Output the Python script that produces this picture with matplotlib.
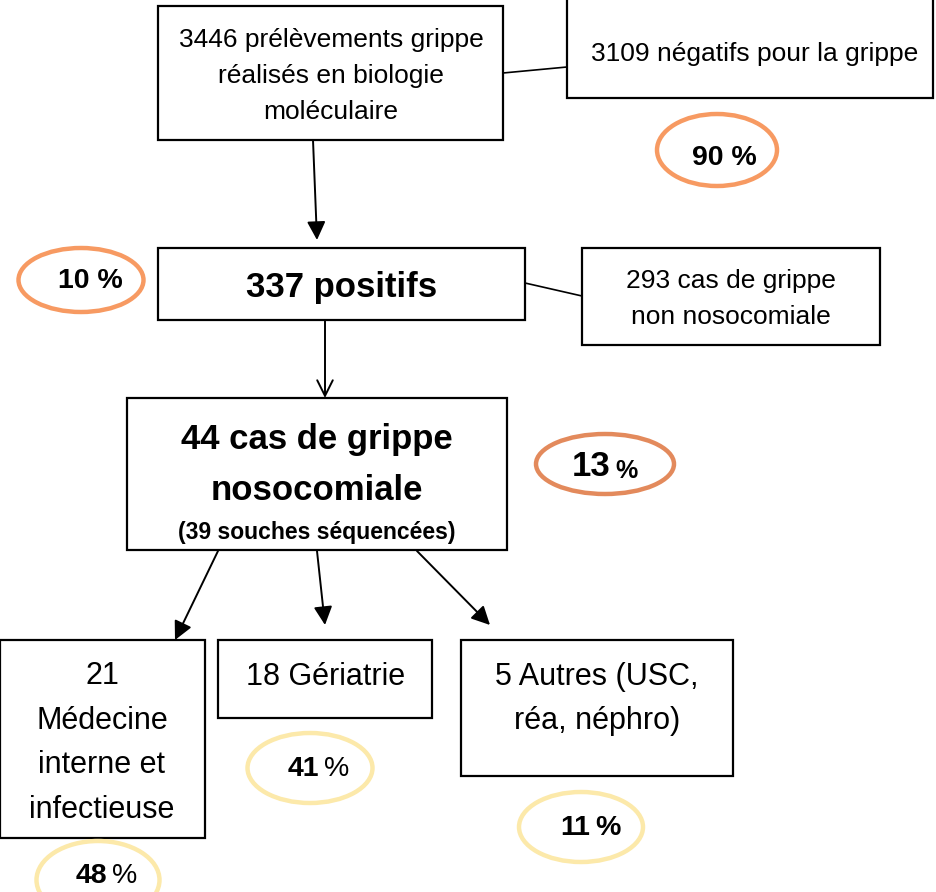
import matplotlib.pyplot as plt
from matplotlib.patches import Rectangle, Ellipse

plt.rcParams['font.family'] = ['Liberation Sans', 'DejaVu Sans']

# ---- data ----
n_total = 3446
n_neg = 3109
n_pos = 337
n_non_noso = 293
n_noso = 44
n_seq = 39
services = ["Médecine\ninterne et\ninfectieuse", "Gériatrie", "Autres (USC,\nréa, néphro)"]
service_counts = [21, 18, 5]
pct_neg = 90
pct_pos = 10
pct_noso = 13
service_pct = [48, 41, 11]

ORANGE = "#F79A62"
ORANGE2 = "#E38A5C"
YELLOW = "#FCE9AA"

fig = plt.figure(figsize=(9.37, 8.92), dpi=100)
ax = fig.add_axes([0, 0, 1, 1])
ax.set_xlim(0, 937)
ax.set_ylim(892, 0)
ax.axis("off")


def box(x0, y0, x1, y1):
    ax.add_patch(Rectangle((x0, y0), x1 - x0, y1 - y0, fill=False,
                           edgecolor="black", linewidth=1.6))


def oval(cx, cy, w, h, color):
    ax.add_patch(Ellipse((cx, cy), w, h, fill=False, edgecolor=color, linewidth=3.2))


def arrow(x0, y0, x1, y1, style="-|>"):
    ax.annotate("", xy=(x1, y1), xytext=(x0, y0),
                arrowprops=dict(arrowstyle=style, color="black", lw=1.4,
                                mutation_scale=28, shrinkA=0, shrinkB=0))


# top box
box(158, 6, 503, 140)
ax.text(331, 76, f"{n_total} prélèvements grippe\nréalisés en biologie\nmoléculaire",
        ha="center", va="center", fontsize=19, linespacing=1.62)

box(567, -2, 933, 98)
ax.text(755, 54, f"{n_neg} négatifs pour la grippe", ha="center", va="center", fontsize=19)
ax.plot([503, 567], [73, 67], color="black", lw=1.2)

oval(717, 150, 120, 72, ORANGE)
ax.text(724, 158, f"{pct_neg} %", ha="center", va="center", fontsize=20.5, fontweight="bold")

arrow(313, 140, 317, 240)

# positives
box(158, 248, 525, 320)
ax.text(342, 287, f"{n_pos} positifs", ha="center", va="center", fontsize=25, fontweight="bold")

oval(81, 280, 125, 64, ORANGE)
ax.text(90, 281, f"{pct_pos} %", ha="center", va="center", fontsize=20.5, fontweight="bold")

box(582, 248, 880, 345)
ax.text(731, 299, f"{n_non_noso} cas de grippe\nnon nosocomiale", ha="center", va="center",
        fontsize=19, linespacing=1.62)
ax.plot([525, 582], [283, 296], color="black", lw=1.2)

arrow(325, 320, 325, 398, style="->")

# nosocomial
box(127, 398, 507, 550)
ax.text(317, 440, f"{n_noso} cas de grippe", ha="center", va="center", fontsize=25, fontweight="bold")
ax.text(317, 490, "nosocomiale", ha="center", va="center", fontsize=25, fontweight="bold")
ax.text(317, 532, f"({n_seq} souches séquencées)", ha="center", va="center",
        fontsize=16.5, fontweight="bold")

oval(605, 464, 138, 60, ORANGE2)
ax.text(611, 466, f"{pct_noso}", ha="right", va="center", fontsize=25, fontweight="bold")
ax.text(615, 471, "%", ha="left", va="center", fontsize=18, fontweight="bold")

# arrows to services
arrow(218, 551, 175, 640)
arrow(317, 551, 325, 625)
arrow(417, 551, 490, 625)

# service boxes
box(0, 640, 205, 838)
ax.text(102, 743, f"{service_counts[0]}\n{services[0]}", ha="center", va="center",
        fontsize=22, linespacing=1.63)

box(218, 640, 432, 718)
ax.text(326, 677, f"{service_counts[1]} {services[1]}", ha="center", va="center", fontsize=22)

box(461, 640, 733, 776)
ax.text(597, 699, f"{service_counts[2]} {services[2]}", ha="center", va="center",
        fontsize=22, linespacing=1.6)

# service percentages
pct_pos_xy = [(98, 880, 123, 78), (310, 768, 125, 70), (581, 827, 124, 70)]
text_dy = [-4, 1, 1]
for (cx, cy, w, h), p, bold_pct, dy in zip(pct_pos_xy, service_pct, [False, False, True], text_dy):
    oval(cx, cy, w, h, YELLOW)
    ax.text(cx + 9, cy + dy, f"{p}", ha="right", va="center", fontsize=20.5, fontweight="bold")
    ax.text(cx + 14, cy + dy, "%", ha="left", va="center", fontsize=20.5,
            fontweight="bold" if bold_pct else "normal")

fig.savefig("out.png", dpi=100)
